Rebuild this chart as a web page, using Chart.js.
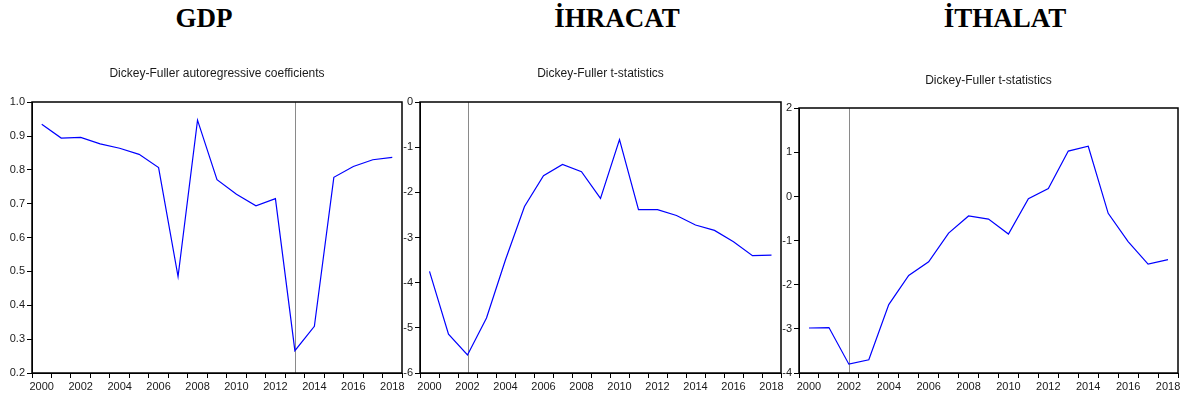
<!DOCTYPE html>
<html>
<head>
<meta charset="utf-8">
<script src="https://cdn.jsdelivr.net/npm/chart.js@4.4.0/dist/chart.umd.min.js"></script>
<style>
  html, body { margin: 0; padding: 0; background: #fff; }
  body { position: relative; width: 1185px; height: 401px; overflow: hidden; }
  .heading {
    position: absolute; top: 5px; width: 240px; text-align: center;
    font: bold 27px/27px "Liberation Serif", "Times New Roman", serif; color: #000;
  }
  canvas { position: absolute; top: 0; }
</style>
</head>
<body>
<div class="heading" style="left:84px">GDP</div>
<div class="heading" style="left:497px">İHRACAT</div>
<div class="heading" style="left:885px">İTHALAT</div>
<canvas id="gdpChart" width="412" height="401" style="left:0;width:412px;height:401px"></canvas>
<canvas id="exportChart" width="410" height="401" style="left:380px;width:410px;height:401px"></canvas>
<canvas id="importChart" width="425" height="401" style="left:760px;width:425px;height:401px"></canvas>
<script>
// recursive Dickey-Fuller results, one value per end year
const years = ['2000', '2001', '2002', '2003', '2004', '2005', '2006', '2007', '2008', '2009',
               '2010', '2011', '2012', '2013', '2014', '2015', '2016', '2017', '2018'];

const gdpCoef = [0.935, 0.894, 0.896, 0.877, 0.864, 0.846, 0.807, 0.485, 0.947, 0.771,
                 0.728, 0.694, 0.715, 0.266, 0.338, 0.778, 0.810, 0.830, 0.837];
const exportT = [-3.75, -5.14, -5.60, -4.78, -3.49, -2.31, -1.63, -1.38, -1.54, -2.13,
                 -0.83, -2.38, -2.38, -2.51, -2.72, -2.84, -3.09, -3.40, -3.39];
const importT = [-2.98, -2.97, -3.80, -3.70, -2.45, -1.79, -1.48, -0.83, -0.44, -0.51,
                 -0.85, -0.05, 0.18, 1.03, 1.14, -0.38, -1.02, -1.53, -1.43];

const gdpTicks = [0.2, 0.3, 0.4, 0.5, 0.6, 0.7, 0.8, 0.9, 1.0];
const exportTicks = [-6, -5, -4, -3, -2, -1, 0];
const importTicks = [-4, -3, -2, -1, 0, 1, 2];

// break dates marked with a vertical line
const gdpBreak = '2013';
const exportBreak = '2002';
const importBreak = '2002';

const TICK_FONT = { family: '"Liberation Sans", Arial, sans-serif', size: 11 };

// box around the plot area plus the grey break marker
const framePlugin = {
  id: 'frame',
  beforeDatasetsDraw(chart, args, opts) {
    const { ctx, chartArea: a } = chart;
    if (opts.breakAt) {
      const x = Math.round(chart.scales.x.getPixelForValue(years.indexOf(opts.breakAt))) + 0.5;
      ctx.save();
      ctx.strokeStyle = '#8a8a8a';
      ctx.lineWidth = 1;
      ctx.beginPath();
      ctx.moveTo(x, a.top);
      ctx.lineTo(x, a.bottom);
      ctx.stroke();
      ctx.restore();
    }
  },
  afterDraw(chart) {
    const { ctx, chartArea: a } = chart;
    const l = Math.round(a.left), t = Math.round(a.top);
    const r = Math.round(a.right), b = Math.round(a.bottom);
    ctx.save();
    ctx.strokeStyle = '#000';
    ctx.lineWidth = 1.5;
    ctx.strokeRect(l, t, r - l, b - t);
    ctx.restore();
  }
};

function makeChart(id, values, cfg) {
  const ticks = cfg.ticks;
  return new Chart(document.getElementById(id), {
    type: 'line',
    data: {
      labels: years,
      datasets: [{
        data: values,
        borderColor: '#0000ff',
        borderWidth: 1.2,
        pointRadius: 0,
        tension: 0,
        fill: false
      }]
    },
    plugins: [framePlugin],
    options: {
      responsive: false,
      animation: false,
      devicePixelRatio: 1,
      layout: { padding: { top: cfg.padTop, left: 0, right: cfg.padRight, bottom: 0 } },
      plugins: {
        legend: { display: false },
        tooltip: { enabled: false },
        title: {
          display: true,
          text: cfg.title,
          fullSize: false,
          color: '#1a1a1a',
          font: { family: '"Liberation Sans", Arial, sans-serif', size: 12, weight: 'normal' },
          padding: { top: 0, bottom: cfg.titleGap }
        },
        frame: { breakAt: cfg.breakAt }
      },
      scales: {
        x: {
          type: 'category',
          offset: true,
          grid: { offset: true, drawOnChartArea: false, drawTicks: true, tickLength: 5, color: '#000', lineWidth: 1 },
          border: { display: true, color: '#000', width: 1 },
          ticks: {
            autoSkip: false,
            maxRotation: 0,
            padding: 2,
            color: '#1a1a1a',
            font: TICK_FONT,
            callback: function (v, i) { return i % 2 === 0 ? years[i] : ''; }
          },
          afterFit: function (scale) { scale.height = 28; }
        },
        y: {
          min: ticks[0],
          max: ticks[ticks.length - 1],
          ticks: {
            stepSize: ticks[1] - ticks[0],
            padding: 2,
            color: '#1a1a1a',
            font: TICK_FONT,
            callback: function (v) { return cfg.decimals ? Number(v).toFixed(cfg.decimals) : String(Math.round(v)); }
          },
          grid: { drawOnChartArea: false, drawTicks: true, tickLength: 5, color: '#000', lineWidth: 1 },
          border: { display: true, color: '#000', width: 1 },
          afterFit: function (scale) { scale.width = cfg.axisWidth; }
        }
      }
    }
  });
}

makeChart('gdpChart', gdpCoef, {
  title: 'Dickey-Fuller autoregressive coefficients',
  ticks: gdpTicks, decimals: 1, breakAt: gdpBreak,
  padTop: 66.8, padRight: 10, titleGap: 21, axisWidth: 32
});
makeChart('exportChart', exportT, {
  title: 'Dickey-Fuller t-statistics',
  ticks: exportTicks, decimals: 0, breakAt: exportBreak,
  padTop: 66.8, padRight: 9, titleGap: 21, axisWidth: 40
});
makeChart('importChart', importT, {
  title: 'Dickey-Fuller t-statistics',
  ticks: importTicks, decimals: 0, breakAt: importBreak,
  padTop: 73.5, padRight: 7, titleGap: 20.4, axisWidth: 39
});
</script>
</body>
</html>
